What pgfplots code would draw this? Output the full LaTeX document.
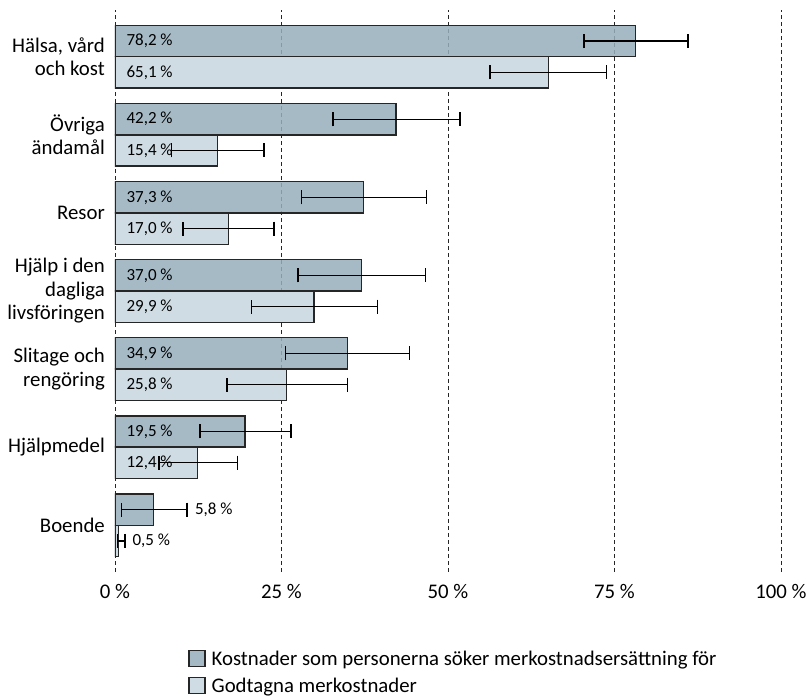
\documentclass[border=0pt]{standalone}
\usepackage{pgfplots}
\pgfplotsset{compat=1.18}
\usepackage{pgfplotstable}
\usepackage{fontspec}
\setmainfont{Carlito}
\definecolor{darkbar}{RGB}{150,174,188}
\definecolor{lightbar}{RGB}{207,220,228}
\pgfplotstableread{
y v em ep
6.2 78.2 7.8 7.8
5.2 42.2 9.5 9.6
4.2 37.3 9.3 9.5
3.2 37.0 9.5 9.6
2.2 34.9 9.3 9.3
1.2 19.5 6.7 6.9
0.2 5.8 4.8 5.0
}\darktab
\pgfplotstableread{
y v em ep
5.8 65.1 8.8 8.7
4.8 15.4 6.9 7.0
3.8 17.0 6.8 6.9
2.8 29.9 9.4 9.5
1.8 25.8 9.0 9.1
0.8 12.4 5.8 6.0
-0.2 0.5 0.1 1.0
}\lighttab
\pgfplotstableread{
x y v
1.7 6.2 78.2
1.7 5.2 42.2
1.7 4.2 37.3
1.7 3.2 37.0
1.7 2.2 34.9
1.7 1.2 19.5
12.0 0.2 5.8
1.7 5.8 65.1
1.7 4.8 15.4
1.7 3.8 17.0
1.7 2.8 29.9
1.7 1.8 25.8
1.7 0.8 12.4
2.6 -0.2 0.5
}\labtab
\begin{document}
\begin{tikzpicture}
\useasboundingbox (-115pt,-128pt) rectangle (693pt,572pt);
\begin{axis}[
  at={(0pt,0pt)}, anchor=south west,
  scale only axis, width=666pt, height=562pt,
  xmin=0, xmax=100, ymin=-0.6, ymax=6.6,
  axis line style={draw=none},
  tick style={draw=none},
  xtick={0,25,50,75,100},
  xticklabels={0 \%,25 \%,50 \%,75 \%,100 \%},
  ytick={0,1,2,3,4,5,6},
  yticklabels={Boende,Hjälpmedel,{Slitage och\\rengöring},{Hjälp i den\\dagliga\\livsföringen},Resor,{Övriga\\ändamål},{Hälsa, vård\\och kost}},
  xmajorgrids,
  major grid style={black!85, line width=0.9pt, dash pattern=on 4pt off 3pt},
  yticklabel style={anchor=east, inner sep=0pt, xshift=-10pt, align=right, font=\fontsize{20.8}{23.5}\selectfont},
  xticklabel style={anchor=north, inner sep=0pt, yshift=-12pt, font=\fontsize{20.8}{24}\selectfont},
  legend style={draw=none, at={(0.11,-0.138)}, anchor=north west, legend cell align=left, row sep=9pt, font=\fontsize{20.8}{24}\selectfont, inner sep=0pt, nodes={inner xsep=6pt, inner ysep=1pt}},
  legend image code/.code={\draw[#1, draw=black!85, line width=1.2pt] (0pt,-8pt) rectangle (16pt,8pt);},
]
\addplot[xbar, bar width=0.4, bar shift=0, fill=darkbar, fill opacity=0.85, draw=black!85, line width=1.3pt,
  error bars/.cd, x dir=both, x explicit, error mark=|, error bar style={black, line width=1.5pt, opacity=1},
  error mark options={black, mark size=7pt, line width=1.5pt}]
  table[x=v, y=y, x error plus=ep, x error minus=em] {\darktab};
\addlegendentry{Kostnader som personerna söker merkostnadsersättning för}
\addplot[xbar, bar width=0.4, bar shift=0, fill=lightbar, draw=black!85, line width=1.3pt,
  error bars/.cd, x dir=both, x explicit, error mark=|, error bar style={black, line width=1.5pt},
  error mark options={black, mark size=7pt, line width=1.5pt}]
  table[x=v, y=y, x error plus=ep, x error minus=em] {\lighttab};
\addlegendentry{Godtagna merkostnader}
\addplot[forget plot, only marks, mark=none, point meta=\thisrow{v},
  nodes near coords={\pgfmathprintnumber[fixed,fixed zerofill,precision=1,use comma,assume math mode=true]{\pgfplotspointmeta}~\%},
  nodes near coords style={anchor=west, inner sep=0pt, black, font=\fontsize{17}{20}\selectfont}]
  table[x=x, y=y] {\labtab};
\end{axis}
\end{tikzpicture}
\end{document}
